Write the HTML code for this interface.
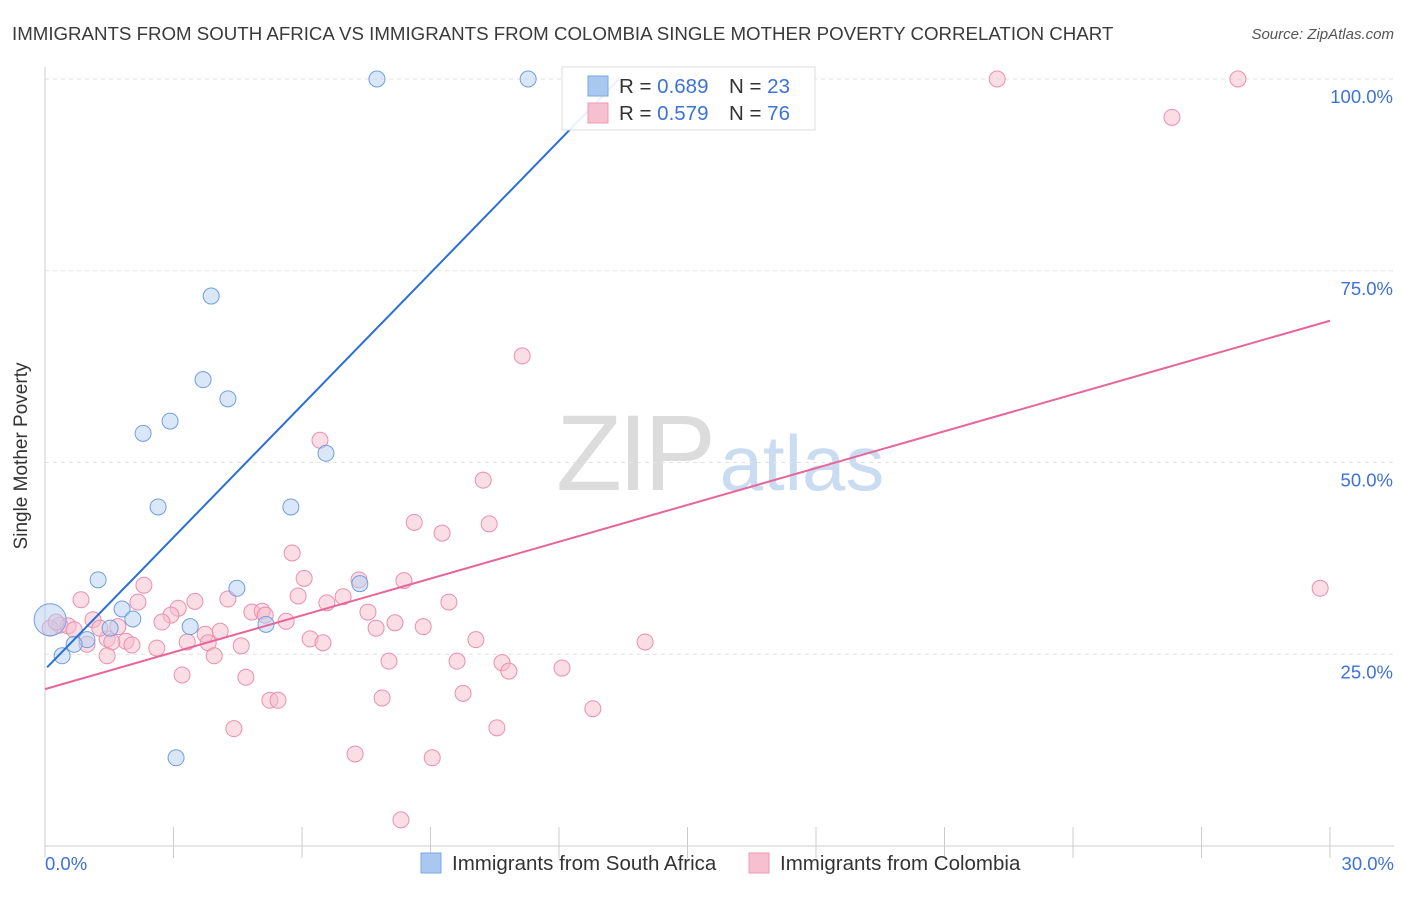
<!DOCTYPE html>
<html><head><meta charset="utf-8">
<style>
body{margin:0;background:#fff;font-family:"Liberation Sans",sans-serif;}
svg text{font-family:"Liberation Sans",sans-serif;}
</style></head>
<body>
<svg width="1406" height="892" xmlns="http://www.w3.org/2000/svg" id="chart">
<text x="12" y="40" font-size="18.7" fill="#3a3a3a">IMMIGRANTS FROM SOUTH AFRICA VS IMMIGRANTS FROM COLOMBIA SINGLE MOTHER POVERTY CORRELATION CHART</text>
<text x="1394" y="39" font-size="15" fill="#555" font-style="italic" text-anchor="end">Source: ZipAtlas.com</text>
<g>
<text x="634" y="490" font-size="108" fill="#dcdcdc" font-family="Liberation Serif" text-anchor="middle" letter-spacing="-4">ZIP</text>
<text x="802" y="490" font-size="78" fill="#c9dcf2" text-anchor="middle">atlas</text>
</g>
<g id="grid"></g>
<g id="axes"></g>
<g id="marks"></g>
<text x="27" y="456" font-size="19" fill="#333" text-anchor="middle" transform="rotate(-90 27 456)">Single Mother Poverty</text>
<text x="45" y="870" font-size="18.5" fill="#3d72d6">0.0%</text>
<text x="1394" y="870" font-size="18.5" fill="#3d72d6" text-anchor="end">30.0%</text>
<g>
<rect x="562" y="67" width="253" height="63" fill="#fff" fill-opacity="0.9" stroke="#ddd"/>
<rect x="588" y="76" width="20" height="20" fill="#a9c8f0" stroke="#7aa6e4"/>
<rect x="588" y="103" width="20" height="20" fill="#f7c0d0" stroke="#ee9ab5"/>
<text x="619" y="93" font-size="20.5" fill="#333">R = <tspan fill="#3d72d6">0.689</tspan></text>
<text x="729" y="93" font-size="20.5" fill="#333">N = <tspan fill="#3d72d6">23</tspan></text>
<text x="619" y="120" font-size="20.5" fill="#333">R = <tspan fill="#3d72d6">0.579</tspan></text>
<text x="729" y="120" font-size="20.5" fill="#333">N = <tspan fill="#3d72d6">76</tspan></text>
</g>
<g>
<rect x="421" y="853" width="20" height="20" fill="#a9c8f0" stroke="#7aa6e4"/>
<text x="452" y="870" font-size="20.5" fill="#333">Immigrants from South Africa</text>
<rect x="749" y="853" width="20" height="20" fill="#f7c0d0" stroke="#ee9ab5"/>
<text x="780" y="870" font-size="20.5" fill="#333">Immigrants from Colombia</text>
</g>
</svg>
<script>
const yTicks=[25,50,75,100];
const yTickLabels=["25.0%","50.0%","75.0%","100.0%"];
const blueX=[7.75,11.28,3.88,3.69,4.27,2.29,2.92,6.56,2.64,5.74,1.24,4.48,7.35,1.80,2.05,1.52,3.39,5.16,0.98,0.68,0.40,3.06,0.12];
const blueY=[100,100,71.7,60.8,58.3,53.8,55.4,51.2,44.2,44.2,34.7,33.6,34.2,30.9,29.6,28.4,28.6,28.9,26.9,26.3,24.8,11.5,29.5];
const pinkX=[22.23,27.85,26.31,11.14,6.42,10.23,8.62,10.37,9.27,5.77,29.77,6.05,7.33,8.38,2.31,0.84,2.17,3.50,3.11,4.27,5.91,6.96,6.58,9.43,4.83,5.07,5.14,2.94,7.54,1.12,2.73,5.63,8.17,7.73,8.83,0.35,0.54,0.12,1.70,3.74,4.09,1.45,1.89,0.98,1.56,3.32,2.03,2.61,3.81,4.58,6.19,6.49,10.06,14.01,1.45,3.95,8.03,9.62,10.67,10.83,12.07,3.20,4.69,9.76,5.25,5.44,7.87,12.79,4.41,10.55,7.24,9.04,8.31,0.26,0.68,1.28];
const pinkY=[100,100,95.0,63.9,52.9,47.7,42.2,42.0,40.8,38.2,33.6,34.9,34.7,34.6,34.0,32.1,31.8,31.9,31.0,32.2,32.6,32.5,31.7,31.8,30.5,30.6,30.1,30.1,30.5,29.5,29.2,29.3,29.1,28.4,28.6,28.8,28.7,28.4,28.6,27.6,28.0,27.0,26.7,26.3,26.6,26.6,26.2,25.8,26.5,26.1,27.0,26.5,26.9,26.6,24.8,24.8,24.1,24.1,23.9,22.8,23.2,22.3,22.0,19.9,19.0,19.0,19.3,17.9,15.3,15.4,12.0,11.5,3.4,29.2,28.2,28.4];
const NS="http://www.w3.org/2000/svg";
const X0=45,X1=1330,Y0=846,Y100=79;
const sx=v=>X0+(X1-X0)*v/30;
const sy=v=>Y0-(Y0-Y100)*v/100;
function mk(t,a,p){const e=document.createElementNS(NS,t);for(const k in a)e.setAttribute(k,a[k]);p.appendChild(e);return e;}
const grid=document.getElementById('grid'),axes=document.getElementById('axes'),marks=document.getElementById('marks');
yTicks.forEach((t,i)=>{
 const l=mk('line',{x1:X0,x2:1394,y1:sy(t),y2:sy(t),stroke:'#e2e2e2','stroke-dasharray':'4,4'},grid);
 
 
 const tx=mk('text',{x:1393,y:sy(t)+24,'font-size':18.5,fill:'#3d72d6','text-anchor':'end'},grid);
 tx.textContent=yTickLabels[i];
 
 
});
const ya=mk('line',{x1:X0,x2:X0,y1:67,y2:Y0,stroke:'#ccc'},axes);


const xa=mk('line',{x1:X0,x2:1394,y1:Y0,y2:Y0,stroke:'#ccc'},axes);


for(let i=0;i<=10;i++){
 const t=mk('line',{x1:sx(i*3),x2:sx(i*3),y1:827,y2:Y0+12,stroke:'#ccc'},axes);
 
 
}
function fit(xs,ys){const n=xs.length;let mx=0,my=0;for(let i=0;i<n;i++){mx+=xs[i];my+=ys[i];}mx/=n;my/=n;let sxy=0,sxx=0;for(let i=0;i<n;i++){sxy+=(xs[i]-mx)*(ys[i]-my);sxx+=(xs[i]-mx)**2;}const b=sxy/sxx;return [my-b*mx,b];}
function dots(xs,ys,fill,stroke,name){
 xs.forEach((x,i)=>{
  const r=(i===xs.length-1&&name==='south-africa')?16:8;
  const c=mk('circle',{cx:sx(x),cy:sy(ys[i]),r:r,fill:fill,'fill-opacity':0.5,stroke:stroke,'stroke-width':1},marks);
  
  
 });
}
dots(pinkX,pinkY,'#f7bccd','#eb8fae','colombia');
dots(blueX,blueY,'#b5cff2','#6f9fe0','south-africa');
let [a,b]=fit(pinkX,pinkY);
const pl=mk('line',{x1:sx(0),y1:sy(a),x2:sx(30),y2:sy(a+b*30),stroke:'#e8659a','stroke-width':2},marks);


[a,b]=fit(blueX,blueY);
const xe=Math.min(30,(100-a)/b);
const bl=mk('line',{x1:sx(0.05),y1:sy(a+b*0.05),x2:sx(xe),y2:sy(a+b*xe),stroke:'#2b6fd6','stroke-width':2},marks);


</script>
</body></html>
